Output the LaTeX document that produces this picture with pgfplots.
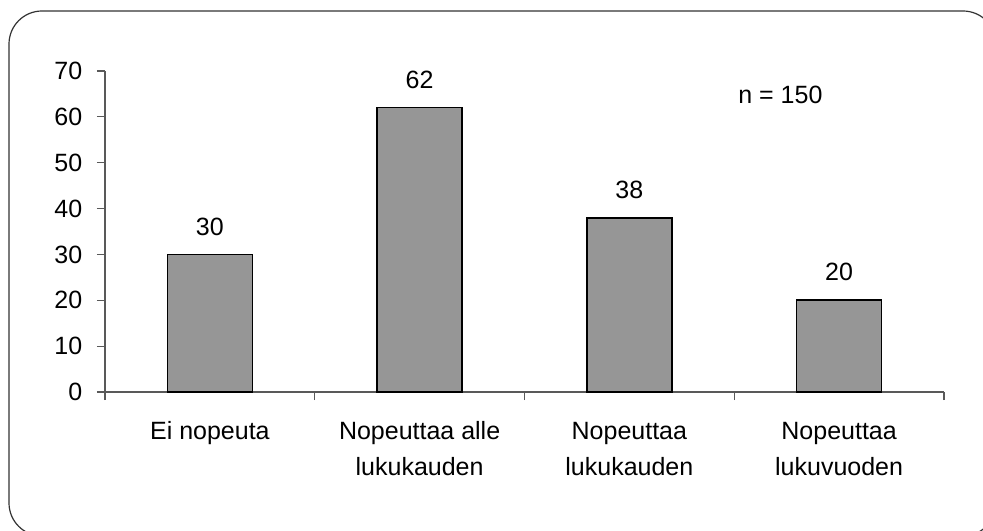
\documentclass[border=0pt]{standalone}
\usepackage{pgfplots}
\pgfplotsset{compat=1.18}
\usepackage{fontspec}
\setmainfont{Liberation Sans}
\begin{document}
\fontsize{12.5}{18}\selectfont
\begin{tikzpicture}
\clip (0,0) rectangle (491.5pt,265pt);
\draw[black!80, line width=0.6pt, rounded corners=16.5pt] (4.5pt,259.5pt) rectangle (498pt,-3pt);
\begin{axis}[
  at={(52.5pt,69pt)}, anchor=south west,
  scale only axis, width=419.5pt, height=160.5pt,
  xmin=-0.5, xmax=3.5, ymin=0, ymax=70,
  ybar, bar width=42.5pt,
  axis x line=bottom, axis y line=left,
  axis line style={-, black!65, line width=0.6pt},
  tick style={black!65, line width=0.6pt},
  tick align=outside, major tick length=4pt,
  /pgf/number format/assume math mode=true,
  ytick={0,10,...,70},
  yticklabel style={font=\fontsize{12.5}{14}\selectfont, xshift=-3pt},
  xtick={-0.5,0.5,1.5,2.5,3.5},
  xticklabels={},
  extra x ticks={0,1,2,3},
  extra x tick labels={{\strut Ei nopeuta}, {\strut Nopeuttaa alle\\lukukauden}, {\strut Nopeuttaa\\lukukauden}, {\strut Nopeuttaa\\lukuvuoden}},
  extra x tick style={major tick length=0pt, xticklabel style={align=center, font=\fontsize{12.5}{18}\selectfont, yshift=-7pt}},
  nodes near coords,
  every node near coord/.append style={font=\fontsize{12.5}{14}\selectfont, yshift=5pt, black},
  clip=false,
]
\addplot[fill=black!41, draw=black, line width=0.8pt] coordinates {(0,30) (1,62) (2,38) (3,20)};
\node[font=\fontsize{12.5}{14}\selectfont] at (axis cs:2.72,64.8) {n = 150};
\end{axis}
\end{tikzpicture}
\end{document}
